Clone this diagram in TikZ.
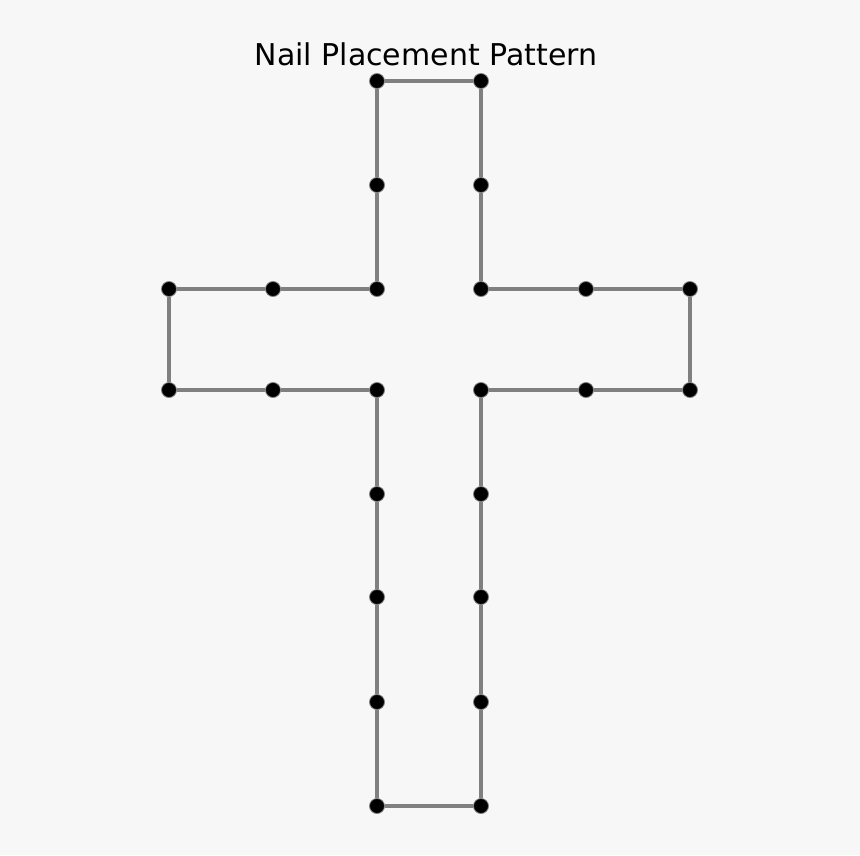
\documentclass[tikz,border=0pt]{standalone}
\usepackage{fontspec}
\setmainfont{DejaVu Sans}
\usepackage{tikz}
\tikzstyle{nail}=[circle,fill=black,draw=gray,line width=0.8pt,minimum size=15pt,inner sep=0pt]
\tikzstyle{string} = [draw,line width=3.5pt,gray]
\tikzstyle{heading} = [font=\fontsize{30}{34}\selectfont]
\definecolor{bg}{HTML}{F7F7F7}

\begin{document}
\begin{tikzpicture}[x=1pt,y=-1pt]

 \fill[bg] (0,0) rectangle (860,855);
 \useasboundingbox (0,0) rectangle (860,855);

 \node[heading] (title) at (426,54) {Nail Placement Pattern};

 %Upright
   \foreach \x/\y/\name in {377/81/L1, 377/185/L2, 377/289/L3, 377/390/L4, 377/494/L5, 377/597/L6, 377/702/L7, 377/806/L8}
          \node[nail] (\name) at (\x,\y) {};
   \foreach \x/\y/\name in {481/81/R1, 481/185/R2, 481/289/R3, 481/390/R4, 481/494/R5, 481/597/R6, 481/702/R7, 481/806/R8}
          \node[nail] (\name) at (\x,\y) {};

 %Arms
   \foreach \x/\y/\name in {169/289/A1, 273/289/A2, 169/390/A3, 273/390/A4}
          \node[nail] (\name) at (\x,\y) {};
   \foreach \x/\y/\name in {586/289/B1, 690/289/B2, 586/390/B3, 690/390/B4}
          \node[nail] (\name) at (\x,\y) {};

 %Outline
  \foreach \source/ \dest in {L1/R1, R1/R2, R2/R3, R3/B1, B1/B2, B2/B4, B4/B3, B3/R4}
         \path[string] (\source) -- (\dest);

  \foreach \source/ \dest in {R4/R5, R5/R6, R6/R7, R7/R8, R8/L8, L8/L7, L7/L6, L6/L5, L5/L4}
         \path[string] (\source) -- (\dest);

  \foreach \source/ \dest in {L4/A4, A4/A3, A3/A1, A1/A2, A2/L3, L3/L2, L2/L1}
         \path[string] (\source) -- (\dest);

\end{tikzpicture}
\end{document}
